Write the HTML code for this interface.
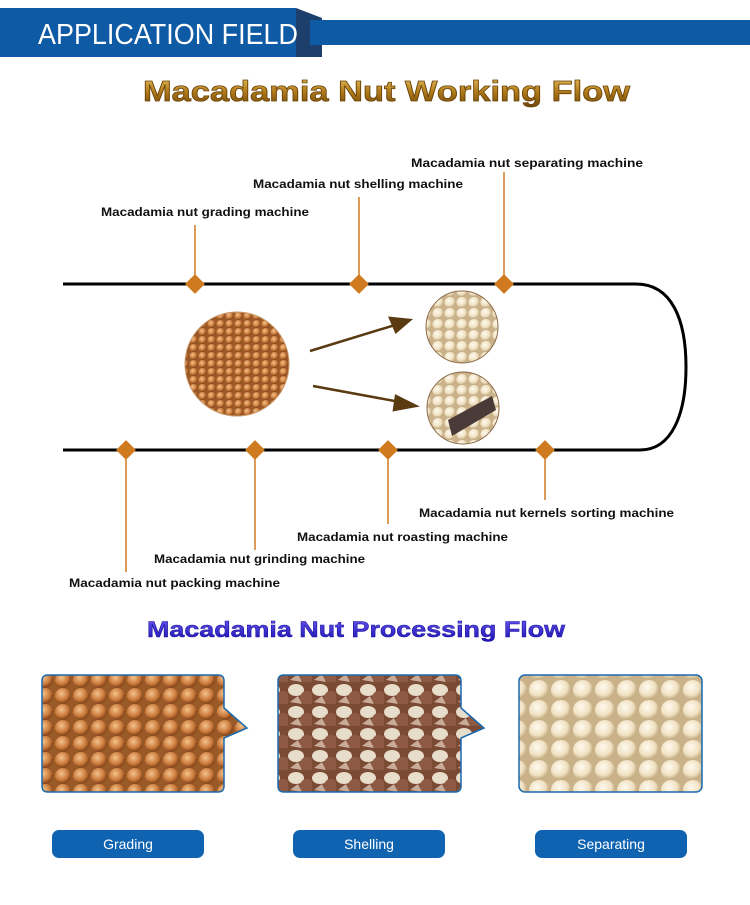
<!DOCTYPE html>
<html><head><meta charset="utf-8"><style>
body{margin:0;width:750px;height:900px;background:#fff;overflow:hidden;font-family:"Liberation Sans",sans-serif}
</style></head><body>
<svg width="750" height="900" xmlns="http://www.w3.org/2000/svg">
<defs>
<radialGradient id="nut" cx="40%" cy="35%" r="60%"><stop offset="0" stop-color="#f3c28a"/><stop offset="0.7" stop-color="#c9783a"/><stop offset="1" stop-color="#8a4a1e"/></radialGradient>
<radialGradient id="ker" cx="40%" cy="35%" r="60%"><stop offset="0" stop-color="#fffaf0"/><stop offset="0.7" stop-color="#efe0c0"/><stop offset="1" stop-color="#c8b088"/></radialGradient>
<pattern id="pn" width="18" height="16" patternUnits="userSpaceOnUse"><rect width="18" height="16" fill="#9a5a28"/><circle cx="9" cy="8" r="8" fill="url(#nut)"/></pattern>
<pattern id="pn2" width="9" height="8" patternUnits="userSpaceOnUse"><rect width="9" height="8" fill="#9a5a28"/><circle cx="4.5" cy="4" r="4" fill="url(#nut)"/></pattern>
<pattern id="pk" width="22" height="20" patternUnits="userSpaceOnUse"><rect width="22" height="20" fill="#c9b28a"/><circle cx="11" cy="10" r="10" fill="url(#ker)"/></pattern>
<pattern id="pk2" width="12" height="11" patternUnits="userSpaceOnUse"><rect width="12" height="11" fill="#c9b28a"/><circle cx="6" cy="5.5" r="5.5" fill="url(#ker)"/></pattern>
<pattern id="ps" width="24" height="22" patternUnits="userSpaceOnUse"><rect width="24" height="22" fill="#7a4a34"/><ellipse cx="8" cy="8" rx="8" ry="6" fill="#e8dccb"/><circle cx="19" cy="16" r="7" fill="#8e5a44"/><path d="M2 20 L10 14 L14 22Z" fill="#c9ab98"/></pattern>
<linearGradient id="gold" x1="0" y1="0" x2="0" y2="1"><stop offset="0" stop-color="#e8c060"/><stop offset="0.5" stop-color="#b07a1a"/><stop offset="1" stop-color="#6b4408"/></linearGradient>
<linearGradient id="blu" x1="0" y1="0" x2="0" y2="1"><stop offset="0" stop-color="#6a5af0"/><stop offset="1" stop-color="#1a10b0"/></linearGradient>
</defs>
<rect x="0" y="8" width="296" height="49" fill="#0f5aa5"/>
<polygon points="296,8 322,18 322,57 296,57" fill="#1d3f6c"/>
<rect x="310" y="20" width="440" height="25" fill="#0f5aa5"/>
<text x="38" y="44" fill="#fff" font-size="29" textLength="260" lengthAdjust="spacingAndGlyphs">APPLICATION FIELD</text>
<text x="143" y="101" font-size="29" font-weight="bold" fill="url(#gold)" stroke="#6b4408" stroke-width="0.8" textLength="487" lengthAdjust="spacingAndGlyphs">Macadamia Nut Working Flow</text>
<path d="M63 284 H636 C672 284 686 320 686 367 C686 414 672 450 640 450 H63" fill="none" stroke="#000" stroke-width="3"/>
<g stroke="#d07a20" stroke-width="1.5">
<line x1="195" y1="225" x2="195" y2="284"/><line x1="359" y1="197" x2="359" y2="284"/><line x1="504" y1="172" x2="504" y2="284"/>
<line x1="126" y1="450" x2="126" y2="572"/><line x1="255" y1="450" x2="255" y2="550"/><line x1="388" y1="450" x2="388" y2="524"/><line x1="545" y1="450" x2="545" y2="500"/>
</g>
<g fill="#d07a20">
<rect x="-7" y="-7" width="14" height="14" transform="translate(195 284) rotate(45)"/>
<rect x="-7" y="-7" width="14" height="14" transform="translate(359 284) rotate(45)"/>
<rect x="-7" y="-7" width="14" height="14" transform="translate(504 284) rotate(45)"/>
<rect x="-7" y="-7" width="14" height="14" transform="translate(126 450) rotate(45)"/>
<rect x="-7" y="-7" width="14" height="14" transform="translate(255 450) rotate(45)"/>
<rect x="-7" y="-7" width="14" height="14" transform="translate(388 450) rotate(45)"/>
<rect x="-7" y="-7" width="14" height="14" transform="translate(545 450) rotate(45)"/>
</g>
<g font-size="12" font-weight="bold" fill="#111">
<text x="101" y="216" textLength="208" lengthAdjust="spacingAndGlyphs">Macadamia nut grading machine</text>
<text x="253" y="188" textLength="210" lengthAdjust="spacingAndGlyphs">Macadamia nut shelling machine</text>
<text x="411" y="167" textLength="232" lengthAdjust="spacingAndGlyphs">Macadamia nut separating  machine</text>
<text x="419" y="517" textLength="255" lengthAdjust="spacingAndGlyphs">Macadamia nut kernels sorting machine</text>
<text x="297" y="541" textLength="211" lengthAdjust="spacingAndGlyphs">Macadamia nut roasting machine</text>
<text x="154" y="563" textLength="211" lengthAdjust="spacingAndGlyphs">Macadamia nut grinding machine</text>
<text x="69" y="587" textLength="211" lengthAdjust="spacingAndGlyphs">Macadamia nut packing machine</text>
</g>
<circle cx="237" cy="364" r="52" fill="url(#pn2)" stroke="#c89868" stroke-width="1"/>
<circle cx="462" cy="327" r="36" fill="url(#pk2)" stroke="#8a6a48" stroke-width="1"/>
<circle cx="463" cy="408" r="36" fill="url(#pk2)" stroke="#8a6a48" stroke-width="1"/>
<path d="M448 420 L492 396 L496 410 L452 436Z" fill="#4a3a38"/>
<g stroke="#5a3a10" stroke-width="2.5" fill="#5a3a10">
<line x1="310" y1="351" x2="395" y2="325"/><polygon points="410,320 390,318 396,332"/>
<line x1="313" y1="386" x2="400" y2="402"/><polygon points="416,406 396,396 394,410"/>
</g>
<text x="147" y="637" font-size="22" font-weight="bold" fill="url(#blu)" stroke="#1a10a0" stroke-width="0.5" textLength="418" lengthAdjust="spacingAndGlyphs">Macadamia Nut Processing Flow</text>
<path d="M48 675 H218 Q224 675 224 681 V708 L247 728 L224 738 V786 Q224 792 218 792 H48 Q42 792 42 786 V681 Q42 675 48 675Z" fill="url(#pn)" stroke="#1a6ab0" stroke-width="1.5"/>
<path d="M284 675 H455 Q461 675 461 681 V708 L484 728 L461 738 V786 Q461 792 455 792 H284 Q278 792 278 786 V681 Q278 675 284 675Z" fill="url(#ps)" stroke="#1a6ab0" stroke-width="1.5"/>
<rect x="519" y="675" width="183" height="117" rx="6" fill="url(#pk)" stroke="#1a6ab0" stroke-width="1.5"/>
<g fill="#0f63b0">
<rect x="52" y="830" width="152" height="28" rx="7"/><rect x="293" y="830" width="152" height="28" rx="7"/><rect x="535" y="830" width="152" height="28" rx="7"/>
</g>
<g fill="#fff" font-size="14" text-anchor="middle">
<text x="128" y="849">Grading</text><text x="369" y="849">Shelling</text><text x="611" y="849">Separating</text>
</g>
</svg>
</body></html>
